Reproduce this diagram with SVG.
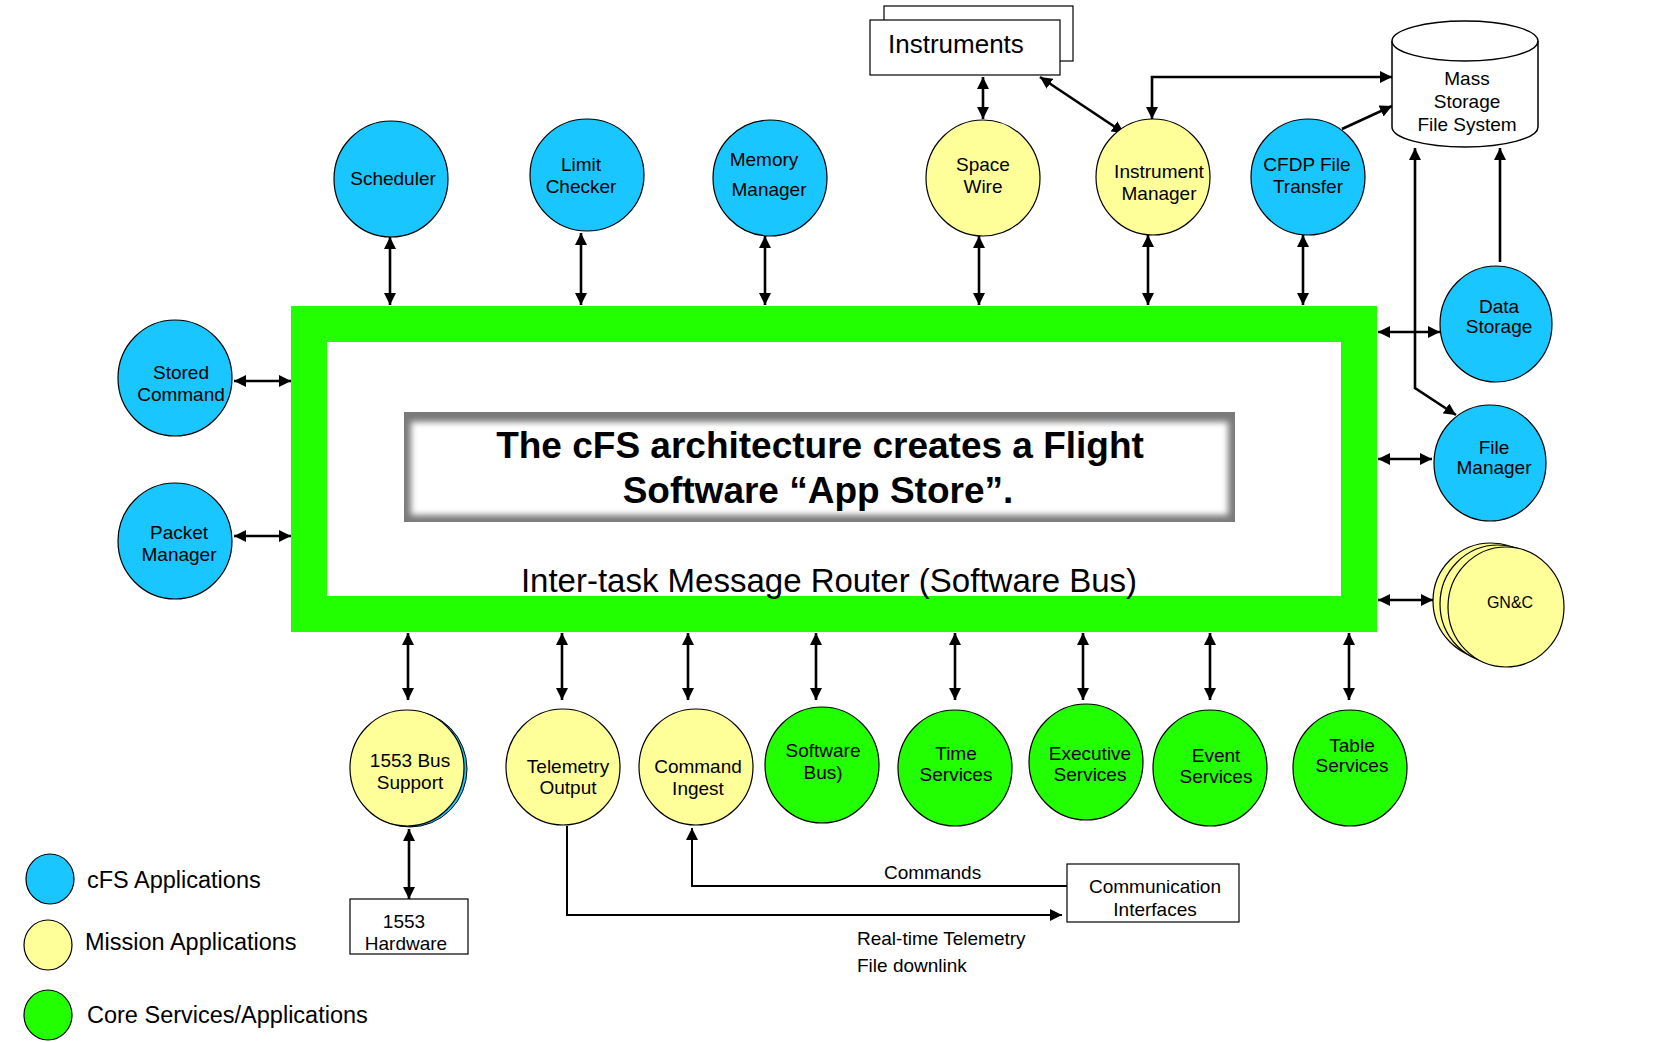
<svg xmlns="http://www.w3.org/2000/svg" width="1668" height="1043" viewBox="0 0 1668 1043">
<style>
text{font-family:"Liberation Sans",Arial,sans-serif;fill:#000}
.n{font-size:19px;text-anchor:middle}
.blue{fill:#1AC6FF;stroke:#000;stroke-width:1.2}
.yel{fill:#FFFF99;stroke:#000;stroke-width:1.2}
.grn{fill:#22FF00;stroke:#000;stroke-width:1.2}
.c{fill:none;stroke:#000;stroke-width:2.6}
.a2{marker-start:url(#ah);marker-end:url(#ah)}
.a1{marker-end:url(#ah)}
.box{fill:#fff;stroke:#000;stroke-width:1.2}
.lg{font-size:23.5px}
</style>
<defs>
<marker id="ah" viewBox="0 0 10 10" refX="10" refY="5" markerUnits="userSpaceOnUse" markerWidth="12" markerHeight="12" orient="auto-start-reverse">
<path d="M0,0 L10,5 L0,10 z" fill="#000"/>
</marker>
<clipPath id="tclip"><rect x="404" y="412" width="831" height="110"/></clipPath>
<filter id="bl" x="-5%" y="-20%" width="110%" height="140%"><feGaussianBlur stdDeviation="3"/></filter>
</defs>
<rect width="1668" height="1043" fill="#fff"/>

<g id="bus">
<rect x="309" y="324" width="1050" height="290" fill="#fff" stroke="#22FF00" stroke-width="36"/>
<text x="829" y="592" style="font-size:33px;text-anchor:middle">Inter-task Message Router (Software Bus)</text>
</g>

<g id="title">
<g clip-path="url(#tclip)">
<rect x="404" y="412" width="831" height="110" fill="#7a7a7a"/>
<rect x="411" y="422" width="817" height="93" fill="#fff" filter="url(#bl)"/>
</g>
<text x="820" y="458" style="font-size:37px;font-weight:bold;text-anchor:middle">The cFS architecture creates a Flight</text>
<text x="818" y="503" style="font-size:37px;font-weight:bold;text-anchor:middle">Software “App Store”.</text>
</g>

<g id="connectors">
<line class="c a2" x1="390" y1="237" x2="390" y2="305"/>
<line class="c a2" x1="581" y1="233" x2="581" y2="305"/>
<line class="c a2" x1="765" y1="236" x2="765" y2="305"/>
<line class="c a2" x1="979" y1="236" x2="979" y2="305"/>
<line class="c a2" x1="1148" y1="235" x2="1148" y2="305"/>
<line class="c a2" x1="1303" y1="235" x2="1303" y2="305"/>
<line class="c a2" x1="234" y1="381" x2="291" y2="381"/>
<line class="c a2" x1="234" y1="536" x2="291" y2="536"/>
<line class="c a2" x1="1378" y1="332" x2="1440" y2="332"/>
<line class="c a2" x1="1378" y1="459" x2="1432" y2="459"/>
<line class="c a2" x1="1378" y1="600" x2="1433" y2="600"/>
<line class="c a2" x1="408" y1="633" x2="408" y2="700"/>
<line class="c a2" x1="562" y1="633" x2="562" y2="700"/>
<line class="c a2" x1="688" y1="633" x2="688" y2="700"/>
<line class="c a2" x1="816" y1="633" x2="816" y2="700"/>
<line class="c a2" x1="955" y1="633" x2="955" y2="700"/>
<line class="c a2" x1="1083" y1="633" x2="1083" y2="700"/>
<line class="c a2" x1="1210" y1="633" x2="1210" y2="700"/>
<line class="c a2" x1="1349" y1="633" x2="1349" y2="700"/>
<line class="c a2" x1="409" y1="829" x2="409" y2="899"/>
<path class="c a1" d="M567,826 V915 H1062" style="stroke-width:2"/>
<path class="c a1" d="M1067,886 H692 V828" style="stroke-width:2"/>
<line class="c a2" x1="983" y1="77" x2="983" y2="119"/>
<line class="c a2" x1="1040" y1="77" x2="1124" y2="133"/>
<path class="c a2" d="M1152,119 V77 H1392"/>
<line class="c a1" x1="1342" y1="129" x2="1392" y2="106"/>
<path class="c a2" d="M1415,148 V388 L1456,415"/>
<line class="c a1" x1="1500" y1="262" x2="1500" y2="148"/>
</g>

<g id="instruments">
<rect class="box" x="884" y="6" width="189" height="55"/>
<rect class="box" x="870" y="20" width="190" height="55"/>
<text x="888" y="53" style="font-size:26px">Instruments</text>
</g>

<g id="mass-storage">
<path d="M1392,41 V127 A73,20 0 0 0 1538,127 V41 A73,20 0 0 0 1392,41 Z" fill="#fff" stroke="#000" stroke-width="1.5"/>
<path d="M1392,41 A73,20 0 0 0 1538,41" fill="none" stroke="#000" stroke-width="1.5"/>
<text class="n" x="1467" y="85">Mass</text>
<text class="n" x="1467" y="108">Storage</text>
<text class="n" x="1467" y="131">File System</text>
</g>

<g id="scheduler"><ellipse class="blue" cx="391" cy="179" rx="57" ry="58"/><text class="n" x="393" y="185">Scheduler</text></g>
<g id="limit-checker"><ellipse class="blue" cx="587" cy="175" rx="57" ry="56"/><text class="n" x="581" y="171">Limit</text><text class="n" x="581" y="193">Checker</text></g>
<g id="memory-manager"><ellipse class="blue" cx="770" cy="178" rx="57" ry="58"/><text class="n" x="764" y="166">Memory</text><text class="n" x="769" y="196">Manager</text></g>
<g id="space-wire"><ellipse class="yel" cx="983" cy="178" rx="57" ry="58"/><text class="n" x="983" y="171">Space</text><text class="n" x="983" y="193">Wire</text></g>
<g id="instrument-manager"><ellipse class="yel" cx="1153" cy="177" rx="57" ry="58"/><text class="n" x="1159" y="178">Instrument</text><text class="n" x="1159" y="200">Manager</text></g>
<g id="cfdp"><ellipse class="blue" cx="1308" cy="177" rx="57" ry="58"/><text class="n" x="1307" y="171">CFDP File</text><text class="n" x="1308" y="193">Transfer</text></g>
<g id="stored-command"><ellipse class="blue" cx="175" cy="378" rx="57" ry="58"/><text class="n" x="181" y="379">Stored</text><text class="n" x="181" y="401">Command</text></g>
<g id="packet-manager"><ellipse class="blue" cx="175" cy="541" rx="57" ry="58"/><text class="n" x="179" y="539">Packet</text><text class="n" x="179" y="561">Manager</text></g>
<g id="data-storage"><ellipse class="blue" cx="1496" cy="324" rx="56" ry="58"/><text class="n" x="1499" y="313">Data</text><text class="n" x="1499" y="333">Storage</text></g>
<g id="file-manager"><ellipse class="blue" cx="1490" cy="463" rx="56" ry="58"/><text class="n" x="1494" y="454">File</text><text class="n" x="1494" y="474">Manager</text></g>
<g id="gnc">
<ellipse class="yel" cx="1491" cy="601" rx="58" ry="58"/>
<ellipse class="yel" cx="1498" cy="604" rx="58" ry="59"/>
<ellipse class="yel" cx="1506" cy="607" rx="58" ry="60"/>
<text x="1510" y="608" style="font-size:16px;text-anchor:middle">GN&amp;C</text>
</g>

<g id="bus-1553"><ellipse cx="410" cy="769" rx="57" ry="58" fill="#1AC6FF" stroke="#000" stroke-width="1"/><ellipse class="yel" cx="407" cy="768" rx="57" ry="58"/><text class="n" x="410" y="767">1553 Bus</text><text class="n" x="410" y="789">Support</text></g>
<g id="telemetry-output"><ellipse class="yel" cx="563" cy="767" rx="57" ry="58"/><text class="n" x="568" y="773">Telemetry</text><text class="n" x="568" y="794">Output</text></g>
<g id="command-ingest"><ellipse class="yel" cx="696" cy="767" rx="57" ry="58"/><text class="n" x="698" y="773">Command</text><text class="n" x="698" y="795">Ingest</text></g>
<g id="software-bus"><ellipse class="grn" cx="822" cy="765" rx="57" ry="58"/><text class="n" x="823" y="757">Software</text><text class="n" x="823" y="779">Bus)</text></g>
<g id="time-services"><ellipse class="grn" cx="955" cy="768" rx="57" ry="58"/><text class="n" x="956" y="760">Time</text><text class="n" x="956" y="781">Services</text></g>
<g id="executive-services"><ellipse class="grn" cx="1086" cy="762" rx="57" ry="58"/><text class="n" x="1090" y="760">Executive</text><text class="n" x="1090" y="781">Services</text></g>
<g id="event-services"><ellipse class="grn" cx="1210" cy="768" rx="57" ry="58"/><text class="n" x="1216" y="762">Event</text><text class="n" x="1216" y="783">Services</text></g>
<g id="table-services"><ellipse class="grn" cx="1350" cy="768" rx="57" ry="58"/><text class="n" x="1352" y="752">Table</text><text class="n" x="1352" y="772">Services</text></g>

<g id="hardware-1553"><rect class="box" x="350" y="899" width="118" height="55"/><text class="n" x="404" y="928">1553</text><text class="n" x="406" y="950">Hardware</text></g>
<g id="comm-interfaces"><rect class="box" x="1067" y="864" width="172" height="58"/><text class="n" x="1155" y="893">Communication</text><text class="n" x="1155" y="916">Interfaces</text></g>

<g id="labels">
<text x="884" y="879" style="font-size:19px">Commands</text>
<text x="857" y="945" style="font-size:19px">Real-time Telemetry</text>
<text x="857" y="972" style="font-size:19px">File downlink</text>
</g>

<g id="legend">
<ellipse class="blue" cx="50" cy="879" rx="24" ry="25"/>
<text class="lg" x="87" y="888">cFS Applications</text>
<ellipse class="yel" cx="48" cy="945" rx="24" ry="25"/>
<text class="lg" x="85" y="950">Mission Applications</text>
<ellipse class="grn" cx="48" cy="1015" rx="24" ry="25"/>
<text class="lg" x="87" y="1023">Core Services/Applications</text>
</g>
</svg>
